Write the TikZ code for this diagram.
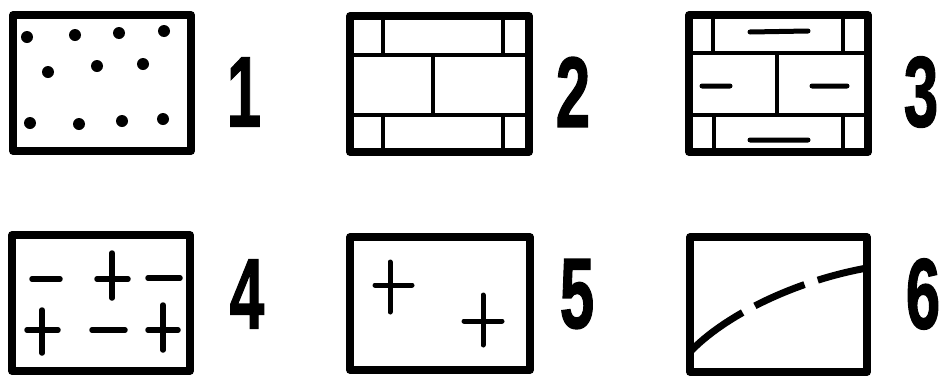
\documentclass[tikz,border=0pt]{standalone}
\usepackage{fontspec}
\setmainfont{Liberation Sans}
\newfontfamily\labfont[BoldFeatures={FakeBold=1.5}]{Liberation Sans}
\begin{document}
\begin{tikzpicture}[x=1pt,y=-1pt,
  frame/.style={line width=7.5pt, line join=round},
  inner/.style={line width=4.5pt},
  sym/.style={line width=5.5pt, line cap=round},
  lab/.style={font=\labfont\fontsize{100}{100}\selectfont\bfseries, inner sep=0pt}]
\useasboundingbox (0,0) rectangle (942,378);
% box 1
\draw[frame] (13,15) rectangle (191,151);
\foreach \x/\y in {27/37,75/35,119/33,164/31,48/72,97/66,143/64,30/123,79/124,122/121,163/119}
  \fill (\x,\y) circle (6);
\node[lab] (n1) at (244,92) {\scalebox{0.62}[1]{1}};
% box 2
\draw[frame] (350,16) rectangle (529,152);
\draw[inner] (350,55) -- (529,55) (350,115) -- (529,115)
  (383,16) -- (383,55) (503,16) -- (503,55) (433,55) -- (433,115)
  (383,115) -- (383,152) (503,115) -- (503,152);
\node[lab] (n2) at (573,92) {\scalebox{0.62}[1]{2}};
% box 3
\draw[frame] (689,15) rectangle (868,152);
\draw[inner] (689,53) -- (868,53) (689,115) -- (868,115)
  (713,15) -- (713,53) (843,15) -- (843,53) (777,53) -- (777,115)
  (714,115) -- (714,152) (843,115) -- (843,152);
\draw[sym, line width=5pt] (750,32) -- (808,31) (702,86) -- (730,86) (812,86) -- (847,86) (750,140) -- (808,140);
\node[lab] (n3) at (921,92) {\scalebox{0.62}[1]{3}};
% box 4
\draw[frame] (12,235) rectangle (190,371);
\draw[sym] (32,279) -- (60,279)
  (97,279) -- (128,279) (112,253) -- (112,298)
  (148,278) -- (180,278)
  (27,330) -- (58,330) (42,310) -- (42,353)
  (92,330) -- (125,330)
  (148,330) -- (178,330) (163,305) -- (163,350);
\node[lab] (n4) at (247,294) {\scalebox{0.62}[1]{4}};
% box 5
\draw[frame] (350,237) rectangle (530,370);
\draw[sym, line width=5pt] (375,285) -- (412,285) (390,262) -- (390,312)
  (464,321) -- (502,321) (483,295) -- (483,345);
\node[lab] (n5) at (577,294) {\scalebox{0.62}[1]{5}};
% box 6
\draw[frame] (690,237) rectangle (867,372);
\draw[line width=7pt, dash pattern=on 66pt off 14pt on 54pt off 14pt on 80pt]
  (690,352) .. controls (722,318) and (790,282) .. (867,268);
\node[lab] (n6) at (923,294) {\scalebox{0.62}[1]{6}};
\end{tikzpicture}
\end{document}
